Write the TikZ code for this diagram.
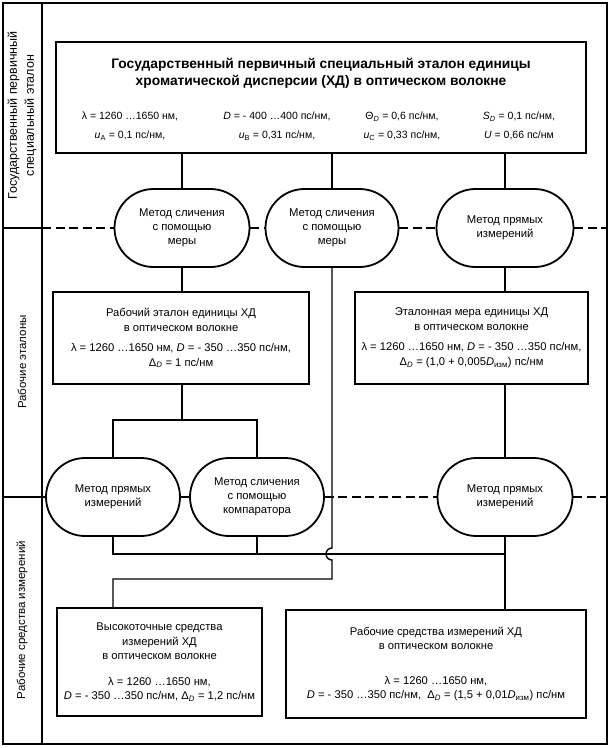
\documentclass[tikz,border=0pt]{standalone}
\usepackage{fontspec}
\setmainfont{Liberation Sans}
\usetikzlibrary{shapes.misc}
\newcommand{\lsub}[1]{\textsubscript{#1}}
\begin{document}
\begin{tikzpicture}[x=1pt,y=-1pt,
  frame/.style={line width=2pt},
  boxnode/.style={draw, line width=1.8pt, inner sep=0pt, align=center, font=\fontsize{11.2}{15}\selectfont},
  stadium/.style={draw, rounded rectangle, line width=1.8pt, minimum width=134pt, minimum height=78pt, inner sep=0pt, align=center, font=\fontsize{11.3}{13.8}\selectfont},
  conn/.style={line width=1.4pt},
  sepdash/.style={line width=1.4pt, dash pattern=on 9pt off 4.5pt},
  lbl/.style={rotate=90, align=center, inner sep=0pt, font=\fontsize{11.5}{16}\selectfont},
  ptxt/.style={align=center, inner sep=0pt, font=\fontsize{10.5}{19}\selectfont}
]
\useasboundingbox (0,0) rectangle (612,748);
% frame
\draw[frame] (3,3) rectangle (607,744);
\draw[frame] (42,3) -- (42,744);
% left labels
\node[lbl, font=\fontsize{12.5}{17}\selectfont] (lab1) at (22,115.5) {Государственный первичный\\специальный эталон};
\node[lbl] (lab2) at (22,362) {Рабочие эталоны};
\node[lbl] (lab3) at (22,620) {Рабочие средства измерений};
% top box
\node[boxnode, minimum width=530pt, minimum height=111pt] (top) at (321,97.5) {};
\node[align=center, inner sep=0pt, font=\fontsize{13.8}{17.5}\selectfont\bfseries] (title) at (321,73.5)
  {Государственный первичный специальный эталон единицы\\хроматической дисперсии (ХД) в оптическом волокне};
\node[ptxt] (p1) at (130,126) {λ = 1260 …1650 нм,\\\textit{u}\lsub{A} = 0,1 пс/нм,};
\node[ptxt] (p2) at (277,126) {\textit{D} = - 400 …400 пс/нм,\\\textit{u}\lsub{B} = 0,31 пс/нм,};
\node[ptxt] (p3) at (402,126) {Θ\lsub{\textit{D}} = 0,6 пс/нм,\\\textit{u}\lsub{C} = 0,33 пс/нм,};
\node[ptxt] (p4) at (519,126) {\textit{S}\lsub{\textit{D}} = 0,1 пс/нм,\\\textit{U} = 0,66 пс/нм};
% row 1 stadiums
\node[stadium, minimum width=135pt] (s1) at (182,228) {Метод сличения\\с помощью\\меры};
\node[stadium, minimum width=133pt] (s2) at (332,228) {Метод сличения\\с помощью\\меры};
\node[stadium, minimum width=137pt] (s3) at (505,228) {Метод прямых\\измерений};
% working standards
\node[boxnode, minimum width=256pt, minimum height=92pt] (we1) at (181,338)
  {Рабочий эталон единицы ХД\\в оптическом волокне\\[5pt]λ = 1260 …1650 нм, \textit{D} = - 350 …350 пс/нм,\\Δ\lsub{\textit{D}} = 1 пс/нм};
\node[boxnode, minimum width=233pt, minimum height=92pt] (we2) at (471.5,338)
  {Эталонная мера единицы ХД\\в оптическом волокне\\[5pt]λ = 1260 …1650 нм, \textit{D} = - 350 …350 пс/нм,\\Δ\lsub{\textit{D}} = (1,0 + 0,005\textit{D}\lsub{изм}) пс/нм};
% row 2 stadiums
\node[stadium] (sl) at (113,497) {Метод прямых\\измерений};
\node[stadium] (sr) at (257,497) {Метод сличения\\с помощью\\компаратора};
\node[stadium, minimum width=135pt] (s3b) at (505,497) {Метод прямых\\измерений};
% measuring instruments
\node[boxnode, minimum width=205pt, minimum height=108pt, font=\fontsize{11.2}{14.5}\selectfont] (hp) at (159.5,662)
  {Высокоточные средства\\измерений ХД\\в оптическом волокне\\[11pt]λ = 1260 …1650 нм,\\\textit{D} = - 350 …350 пс/нм, Δ\lsub{\textit{D}} = 1,2 пс/нм};
\node[boxnode, minimum width=300pt, minimum height=108pt, font=\fontsize{11.2}{14.5}\selectfont] (wm) at (436,664)
  {Рабочие средства измерений ХД\\в оптическом волокне\\[20pt]λ = 1260 …1650 нм,\\\textit{D} = - 350 …350 пс/нм,\ \ Δ\lsub{\textit{D}} = (1,5 + 0,01\textit{D}\lsub{изм}) пс/нм};
% section separators
\draw[frame] (3,228) -- (42,228);
\draw[sepdash] (42,228) -- (s1.west);
\draw[sepdash] (s1.east) -- (s2.west);
\draw[sepdash] (s2.east) -- (s3.west);
\draw[sepdash] (s3.east) -- (607,228);
\draw[frame] (3,497) -- (42,497);
\draw[conn] (42,497) -- (sl.west);
\draw[conn] (sl.east) -- (sr.west);
\draw[sepdash] (sr.east) -- (s3b.west);
\draw[sepdash] (s3b.east) -- (607,497);
% connectors
\draw[conn] (s1.north) -- (s1.north |- top.south);
\draw[conn] (s2.north) -- (s2.north |- top.south);
\draw[conn] (s3.north) -- (s3.north |- top.south);
\draw[conn] (s1.south) -- (s1.south |- we1.north);
\draw[conn] (s3.south) -- (s3.south |- we2.north);
\draw[conn] (s3b.north) -- (s3b.north |- we2.south);
\draw[conn] (s3b.south) -- (s3b.south |- wm.north);
\coordinate (brk) at (182,420);
\draw[conn] (we1.south -| brk) -- (brk);
\draw[conn] (sl.north) |- (brk) -| (sr.north);
\coordinate (midj) at (505,554);
\draw[conn] (sl.south) |- (midj);
\draw[conn] (sr.south) -- (sr.south |- midj);
\coordinate (lowj) at (113,579);
\draw[conn] (s2.south) -- (332,548) arc[start angle=90, end angle=270, radius=6pt] -- (332,579) -- (lowj) -- (lowj |- hp.north);
\end{tikzpicture}
\end{document}
